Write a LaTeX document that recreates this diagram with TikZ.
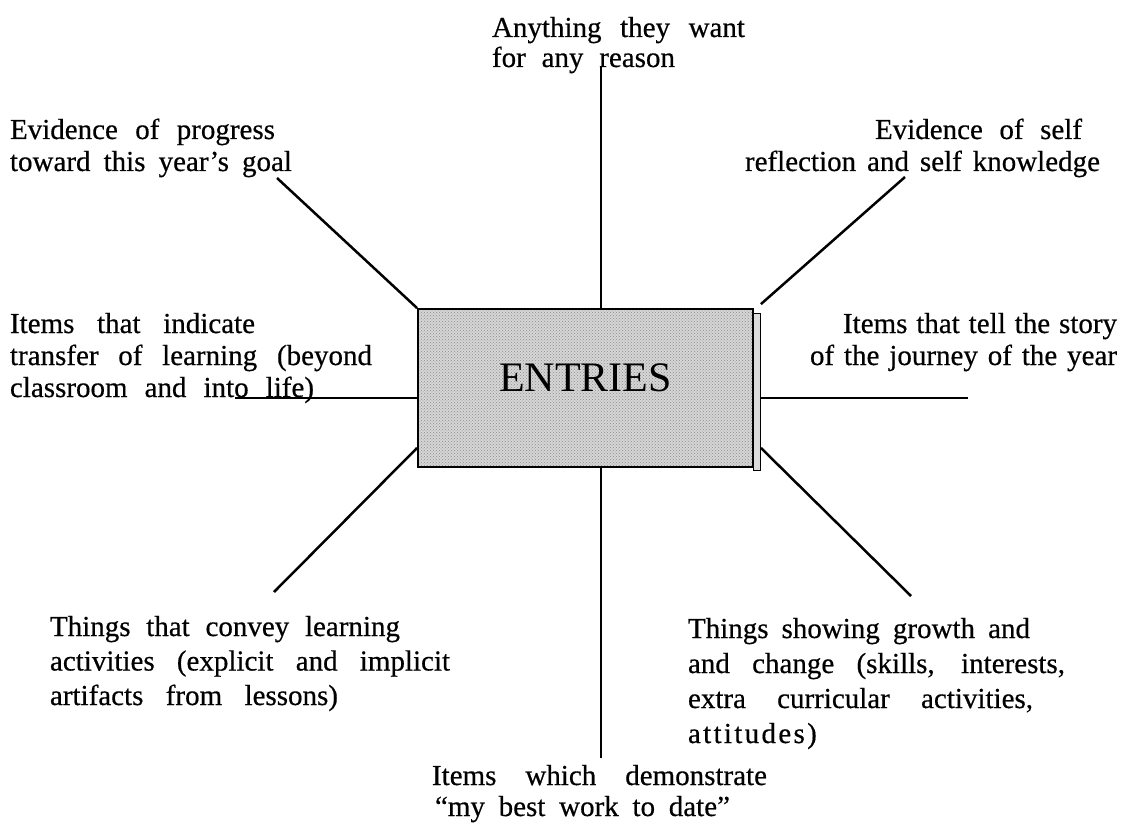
\documentclass[tikz,border=0pt]{standalone}
\usepackage{fontspec}
\setmainfont{Liberation Serif}
\newfontfamily\scanfont{Liberation Serif}[FakeBold=0.5,Ligatures=TeX]
\usetikzlibrary{patterns}
\newcommand{\Ln}[2]{\makebox[#1pt][s]{\spaceskip=0.2em plus 1fil\relax\xspaceskip=\spaceskip #2}}
\begin{document}
\begin{tikzpicture}[x=1pt,y=-1pt,
  txt/.style={inner sep=0pt, outer sep=0pt, text width=420pt, font=\scanfont\fontsize{29}{#1}\selectfont},
  txt/.default=32,
  spoke/.style={line width=2.5pt},
  vspoke/.style={line width=2pt},
  entrybox/.style={draw=black, line width=1.8pt, minimum width=335pt, minimum height=158pt,
    inner sep=0pt, text depth=20pt, font=\fontsize{42}{42}\selectfont,
    preaction={fill=black!16}, pattern=crosshatch dots, pattern color=black!45},
]
\useasboundingbox (0,0) rectangle (1132,824);

% shadow strip on the right side of the box
\path[fill=black!14, draw=black, line width=0.8pt] (753,313) rectangle (760,470);

\node[entrybox] (entries) at (585.5,388) {ENTRIES};

% free ends of the spokes
\coordinate (eTop) at (601,66);
\coordinate (eBot) at (601,758);
\coordinate (eUL) at (277,178);
\coordinate (eUR) at (905,177);
\coordinate (eL) at (235,398);
\coordinate (eR) at (968,398);
\coordinate (eLL) at (274,592);
\coordinate (eLR) at (911,596);

\draw[vspoke] ([xshift=15.5pt]entries.north) -- (eTop);
\draw[vspoke] ([xshift=15.5pt]entries.south) -- (eBot);
\draw[spoke] (entries.north west) -- (eUL);
\draw[spoke] ([xshift=7pt,yshift=4pt]entries.north east) -- (eUR);
\draw[spoke] ([yshift=-10pt]entries.west) -- (eL);
\draw[spoke] ([xshift=7pt,yshift=-10pt]entries.east) -- (eR);
\draw[spoke] ([yshift=20pt]entries.south west) -- (eLL);
\draw[spoke] ([xshift=7pt,yshift=20pt]entries.south east) -- (eLR);

% labels
\node[txt=30, align=left, anchor=base west] (anything) at (492,37)
  {\Ln{253}{Anything they want}\\\Ln{183}{for any reason}};
\node[txt=32, align=left, anchor=base west] (progress) at (10,139)
  {\Ln{265}{Evidence of progress}\\\Ln{282}{toward this year’s goal}};
\node[txt=32, align=right, anchor=base east] (selfrefl) at (1100,139)
  {\Ln{207}{Evidence of self}\rule{18pt}{0pt}\\\Ln{355}{reflection and self knowledge}};
\node[txt=32, align=left, anchor=base west] (transfer) at (10,333)
  {\Ln{245}{Items that indicate}\\\Ln{362}{transfer of learning (beyond}\\\Ln{304}{classroom and into life)}};
\node[txt=32, align=right, anchor=base east] (journey) at (1117,333)
  {\Ln{274}{Items that tell the story}\\\Ln{307}{of the journey of the year}};
\node[txt=34.5, align=left, anchor=base west] (convey) at (50,636)
  {\Ln{350}{Things that convey learning}\\\Ln{400}{activities (explicit and implicit}\\\Ln{288}{artifacts from lessons)}};
\node[txt=35, align=left, anchor=base west] (growth) at (688,638)
  {\Ln{342}{Things showing growth and}\\\Ln{377}{and change (skills, interests,}\\\Ln{345}{extra curricular activities,}\\{\addfontfeature{LetterSpace=8}attitudes)}};
\node[txt=31, align=left, anchor=base west] (bestwork) at (432,785)
  {\Ln{335}{Items which demonstrate}\\\rule{3pt}{0pt}\Ln{295}{“my best work to date”}};
\end{tikzpicture}
\end{document}
